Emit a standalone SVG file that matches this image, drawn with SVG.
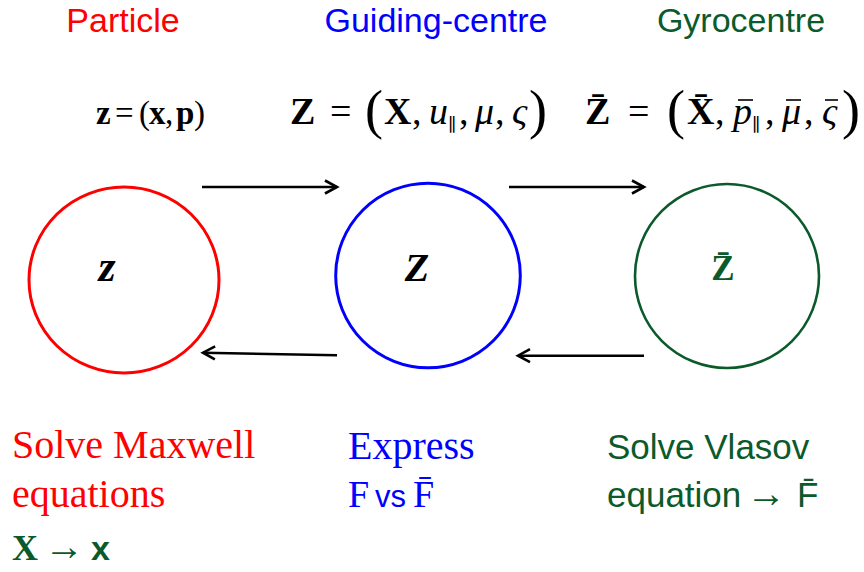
<svg xmlns="http://www.w3.org/2000/svg" width="864" height="572" viewBox="0 0 864 572">
<defs>
<style>
.sans{font-family:"Liberation Sans",Arial,sans-serif;}
.serif{font-family:"Liberation Serif","Times New Roman",serif;}
.red{fill:#ff0000;}
.blue{fill:#0000ff;}
.green{fill:#0b5a2b;}
.head{font-size:34px;text-anchor:middle;}
.f{font-family:"Liberation Serif","Times New Roman",serif;font-size:38px;fill:#000;}
.f1{font-family:"Liberation Serif","Times New Roman",serif;font-size:33px;fill:#000;}
.b{font-weight:bold;}
.i{font-style:italic;}
.big{font-size:54px;}
.sub{font-family:"DejaVu Serif",serif;font-size:18px;}
.bar{stroke:#000;stroke-width:1.6;}
.conn{fill:none;stroke:#000;stroke-width:2.6;}
.body{font-size:40px;}
.bodys{font-size:35px;}
</style>
<marker id="ah" markerUnits="userSpaceOnUse" markerWidth="20" markerHeight="20" viewBox="-14 -10 16 20" refX="0" refY="0" orient="auto">
<path d="M -12 -6.5 L 0 0 L -12 6.5" fill="none" stroke="#000" stroke-width="2.6" stroke-linejoin="miter"/>
</marker>
</defs>
<rect width="864" height="572" fill="#fff"/>

<g id="headings">
<text class="sans head red" x="123" y="32">Particle</text>
<text class="sans head blue" x="436" y="32">Guiding-centre</text>
<text class="sans head green" x="741" y="32">Gyrocentre</text>
</g>

<g id="formula-particle">
<text class="f1 b" x="96" y="124">z</text>
<text class="f1" x="115" y="124">=</text>
<text class="f1" x="139" y="124">(</text>
<text class="f1 b" x="149" y="124">x</text>
<text class="f1" x="165" y="124">,</text>
<text class="f1 b" x="176" y="124">p</text>
<text class="f1" x="194" y="124">)</text>
</g>

<g id="formula-guiding-centre">
<text class="f b" x="290" y="124">Z</text>
<text class="f" x="330" y="124">=</text>
<text class="f big" x="365" y="128">(</text>
<text class="f b" x="384" y="124">X</text>
<text class="f" x="412" y="124">,</text>
<text class="f i" x="429" y="124">u</text>
<text class="sub" x="448" y="131">∥</text>
<text class="f" x="459" y="124">,</text>
<text class="f i" x="475" y="124">μ</text>
<text class="f" x="495" y="124">,</text>
<text class="f i" x="512" y="124">ς</text>
<text class="f big" x="529" y="128">)</text>
</g>

<g id="formula-gyrocentre">
<text class="f b" x="585" y="124">Z̄</text>
<text class="f" x="628" y="124">=</text>
<text class="f big" x="667" y="128">(</text>
<text class="f b" x="687" y="124">X̄</text>
<text class="f" x="715" y="124">,</text>
<text class="f i" x="733" y="124">p</text>
<line class="bar" x1="738" y1="100" x2="753" y2="100"/>
<text class="sub" x="752" y="131">∥</text>
<text class="f" x="765" y="124">,</text>
<text class="f i" x="782" y="124">μ</text>
<line class="bar" x1="786" y1="100" x2="801" y2="100"/>
<text class="f" x="804" y="124">,</text>
<text class="f i" x="822" y="124">ς</text>
<line class="bar" x1="825" y1="100" x2="838" y2="100"/>
<text class="f big" x="842" y="128">)</text>
</g>

<g id="node-particle">
<ellipse cx="124" cy="280" rx="95" ry="93" fill="none" stroke="#ff0000" stroke-width="3"/>
<text class="serif b i" x="107" y="281" font-size="44" text-anchor="middle" fill="#000">z</text>
</g>

<g id="node-guiding-centre">
<circle cx="428" cy="275.5" r="92.3" fill="none" stroke="#0000ff" stroke-width="3"/>
<text class="serif b i" x="417" y="281" font-size="40" text-anchor="middle" fill="#000">Z</text>
</g>

<g id="node-gyrocentre">
<circle cx="727" cy="276" r="92" fill="none" stroke="#0b5a2b" stroke-width="2.6"/>
<text class="serif b green" x="723" y="280" font-size="35" text-anchor="middle">Z̄</text>
</g>

<g id="connectors">
<path class="conn" d="M 202 187 L 337 187" marker-end="url(#ah)"/>
<path class="conn" d="M 509 187 L 644 187" marker-end="url(#ah)"/>
<path class="conn" d="M 337 355.3 L 203 352.7" marker-end="url(#ah)"/>
<path class="conn" d="M 644 355.7 L 518 355.7" marker-end="url(#ah)"/>
</g>

<g id="notes">
<text class="serif body red" x="12" y="458">Solve Maxwell</text>
<text class="serif body red" x="12" y="507">equations</text>
<text class="green" y="560"><tspan class="serif b" x="12" font-size="36">X</tspan><tspan class="serif" x="44" font-size="40">→</tspan><tspan class="sans b" x="91" font-size="34">x</tspan></text>
<text class="serif body blue" x="348" y="459">Express</text>
<text class="blue" y="507"><tspan class="serif" x="348" font-size="38">F</tspan><tspan class="sans" x="375" font-size="31">vs</tspan><tspan class="serif" x="413" font-size="38">F̄</tspan></text>
<text class="sans bodys green" x="607" y="459">Solve Vlasov</text>
<text class="green" y="507"><tspan class="sans" x="607" font-size="35">equation</tspan><tspan class="serif" x="746" font-size="40">→</tspan><tspan class="sans" x="797" font-size="35">F̄</tspan></text>
</g>
</svg>
